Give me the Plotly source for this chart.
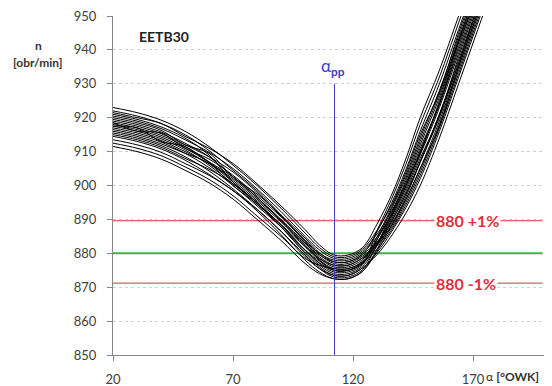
import plotly.graph_objects as go

# angle positions (°OWK)
alpha = [20, 30, 40, 50, 60, 70, 80, 90, 100, 106, 112, 118, 124, 130, 136, 142, 148, 156, 164, 172, 180]

# rotational speed curves n [obr/min]
curves = [
    [923, 921.5, 919.3, 916, 911.5, 906, 900, 893.3, 886, 881.7, 879, 879, 881.2, 886.8, 894.1, 903.8, 915, 927.5, 945, 961, 977],
    [922, 920.5, 918.3, 915, 910.3, 904.5, 898.5, 891.3, 883.5, 878, 875, 875, 877, 886.7, 895.9, 906.2, 918, 932, 948, 964, 980],
    [921.5, 920, 918.3, 914.5, 911, 906.5, 900.5, 894, 887, 882.5, 879.5, 879.5, 881.7, 888.6, 897.1, 907.8, 920, 934, 950, 966, 982],
    [921, 919.5, 917.3, 914, 909, 901, 895, 888.5, 881, 877.7, 875, 875, 877.2, 881.2, 886.9, 894.2, 903, 917, 933, 949, 965],
    [920.5, 919, 916.8, 913.5, 909.8, 905, 899, 892.3, 885, 881, 878.5, 878.5, 880.7, 885.7, 892.3, 901.4, 912, 926, 943, 958, 974],
    [920, 918.5, 916.3, 912, 909.5, 902.5, 897.5, 891.3, 884.5, 880.2, 877.5, 877.5, 879.7, 886.4, 894.7, 904.6, 916, 930, 946, 962, 978],
    [919.5, 918, 915.8, 912.5, 908.5, 902.5, 896.5, 890, 883, 879, 876.5, 876.5, 878.7, 883.2, 889.3, 897.4, 907, 921, 937, 953, 969],
    [919, 917.5, 915.3, 912, 908.5, 904, 898, 891, 883.5, 880, 878, 878, 880.2, 884.8, 891.1, 899.8, 910, 924, 942, 956, 972],
    [918.5, 917, 914.8, 911.5, 906.8, 901, 895, 888.3, 881, 877, 874.5, 874.5, 876.7, 884, 892.9, 902.2, 913, 927, 943, 959, 975],
    [918.5, 916, 915.5, 911, 907.8, 903, 897, 890.8, 884, 879.7, 877, 877, 879.2, 882.8, 888.1, 895.8, 905, 919, 935, 951, 967],
    [918, 916.5, 914.3, 911, 906.8, 901.5, 895.5, 889.3, 882.5, 878.5, 876, 876, 878.2, 884.1, 891.7, 900.6, 911, 924, 941, 957, 973],
    [917.5, 917, 913, 911.5, 907, 902.5, 896.5, 889.5, 882, 878, 875.5, 875.5, 877.7, 884.8, 893.5, 903, 914, 928, 944, 960, 976],
    [917.5, 916, 913.8, 910.5, 906, 900.5, 895, 887.8, 880.5, 876.5, 874, 874, 876.2, 882.2, 889.9, 898.2, 908, 920.5, 938, 954, 970],
    [917, 915.5, 913.3, 910, 906.5, 902, 896, 889.8, 883, 879.5, 877.5, 877.5, 879.7, 883.4, 888.7, 896.6, 906.8, 920, 936, 952, 968],
    [916.5, 915, 912.8, 909.5, 905.3, 900, 894, 887.8, 881, 877.2, 875, 875, 877.2, 883, 890.5, 899, 909, 923, 939, 955, 971],
    [916, 914.5, 912.3, 909.5, 906.5, 900, 894.5, 887.8, 880, 876, 873.5, 873.5, 875.7, 880.2, 886.3, 893.4, 902, 916, 932, 948, 964],
    [915.5, 914, 911.8, 908.5, 904.3, 899, 893, 886.5, 879.5, 875.5, 873, 873, 875.2, 882.6, 891.7, 900.6, 909.5, 925, 942.5, 957, 973],
    [915, 913.5, 911.3, 908, 904.8, 900.5, 894.5, 888.5, 882, 878.5, 876.5, 876.5, 878.7, 882.3, 887.5, 895, 904, 918, 934, 950, 966],
    [914.5, 913, 910.8, 907.5, 903.3, 898.5, 893, 886.5, 879, 875.5, 873.5, 873.5, 875.7, 879.6, 885.1, 891.8, 900, 914, 930, 946, 962],
    [913.5, 912, 909.8, 906.5, 903, 898.5, 892.5, 885.5, 878, 874.5, 872.5, 872.5, 874.7, 881.2, 889.3, 897.4, 907, 921, 936, 953, 969],
    [912.5, 911, 908.8, 905.5, 901.8, 897, 891, 885, 878.5, 876.5, 875.5, 875.5, 877.5, 882.3, 891.1, 899.8, 910, 924, 940, 956, 972],
    [911.5, 910, 907.8, 904.5, 900.8, 896, 890, 883.8, 877, 874, 872.5, 872.5, 874.7, 880.6, 888.1, 895.8, 905, 917.5, 935, 951, 967],
]

limit_x = [20, 199]
nominal = 880
upper_limit = 889.6
lower_limit = 871.2
alpha_pp = 112.3
alpha_pp_y = [850, 930]

x_ticks = [20, 70, 120, 170]
y_ticks = [850, 860, 870, 880, 890, 900, 910, 920, 930, 940, 950]

FONT = "Lato"
# page body has an 8px margin; size the figure so the plot area lands where the reference has it
OFF = 8
W, H = 552 - OFF, 386 - OFF
ML, MR, MT, MB = 113 - OFF, 7, 16 - OFF, 31

fig = go.Figure()

fig.add_trace(go.Scatter(x=limit_x, y=[upper_limit] * 2, mode="lines",
                         line=dict(color="#e0303c", width=1), hoverinfo="skip"))
fig.add_trace(go.Scatter(x=limit_x, y=[lower_limit] * 2, mode="lines",
                         line=dict(color="#e0303c", width=1), hoverinfo="skip"))
fig.add_trace(go.Scatter(x=limit_x, y=[nominal] * 2, mode="lines",
                         line=dict(color="#3cb44b", width=2), hoverinfo="skip"))

for c in curves:
    fig.add_trace(go.Scatter(x=alpha, y=c, mode="lines",
                             line=dict(color="black", width=1, shape="spline", smoothing=1.0),
                             hoverinfo="skip"))

fig.add_trace(go.Scatter(x=[alpha_pp, alpha_pp], y=alpha_pp_y, mode="lines",
                         line=dict(color="#3c3cc8", width=1), hoverinfo="skip"))

fig.update_layout(
    width=W, height=H,
    margin=dict(l=ML, r=MR, t=MT, b=MB, autoexpand=False),
    paper_bgcolor="white", plot_bgcolor="white",
    showlegend=False,
    font=dict(family=FONT, color="#404040", size=13),
)

fig.update_xaxes(range=[20, 200], tickvals=x_ticks, showgrid=False, automargin=False,
                 showline=True, linecolor="#868686", linewidth=1,
                 ticks="outside", ticklen=5, tickcolor="#868686",
                 ticklabelstandoff=7, zeroline=False, ticklabeloverflow="allow",
                 tickfont=dict(size=13, color="#404040", family=FONT))
fig.update_yaxes(range=[850, 950], tickvals=y_ticks, showgrid=True, automargin=False,
                 gridcolor="#cfcfcf", griddash="dot", gridwidth=1,
                 showline=True, linecolor="#868686", linewidth=1,
                 ticks="outside", ticklen=5, tickcolor="#868686",
                 ticklabelstandoff=8, zeroline=False, ticklabeloverflow="allow",
                 tickfont=dict(size=13, color="#404040", family=FONT))


def add_px_text(px, py, text, size, color="#333333", xanchor="center"):
    # px, py are window pixel positions as in the reference
    xp = (px - OFF - ML) / (W - ML - MR)
    yp = 1 - (py - OFF - MT) / (H - MT - MB)
    fig.add_annotation(x=xp, y=yp, xref="paper", yref="paper", text=text,
                       showarrow=False, xanchor=xanchor, yanchor="middle",
                       font=dict(family=FONT, size=size, color=color))


add_px_text(38, 45, "<b>n</b>", 12)
add_px_text(38, 62, "<b>[obr/min]</b>", 12)
add_px_text(137, 37, "<b>EETB30</b>", 14, color="#222222", xanchor="left")
add_px_text(333, 67, "α<sub><b>pp</b></sub>", 17, color="#3c3cc8")
add_px_text(541, 376, "α <b>[°OWK]</b>", 12, color="#333333", xanchor="right")

fig.add_annotation(x=167.5, y=upper_limit, text="<b>880 +1%</b>", showarrow=False,
                   bgcolor="white", font=dict(family=FONT, size=16, color="#e0303c"),
                   borderpad=1)
fig.add_annotation(x=167, y=lower_limit, text="<b>880 -1%</b>", showarrow=False,
                   bgcolor="white", font=dict(family=FONT, size=16, color="#e0303c"),
                   borderpad=1)

fig.write_html("out.html")
